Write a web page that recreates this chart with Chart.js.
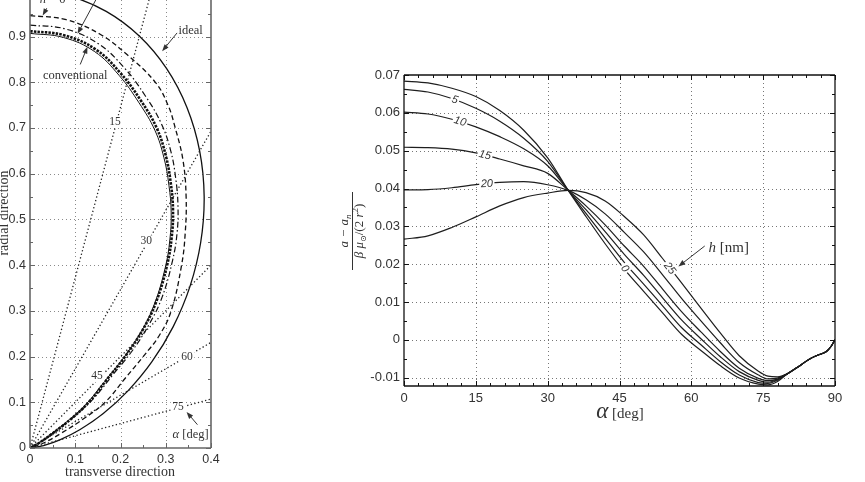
<!DOCTYPE html>
<html>
<head>
<meta charset="utf-8">
<script src="https://cdn.jsdelivr.net/npm/chart.js@4.4.0/dist/chart.umd.min.js"></script>
<style>
  html, body { margin: 0; padding: 0; background: #fff; width: 865px; height: 482px; overflow: hidden; }
  #left { position: absolute; left: 0; top: 0; }
  #right { position: absolute; left: 340px; top: 0; }
</style>
</head>
<body>
<canvas id="left" width="240" height="482"></canvas>
<canvas id="right" width="525" height="482"></canvas>
<script>
// ---- left panel: force curves (transverse vs radial) ----
const leftXTicks = [0, 0.1, 0.2, 0.3, 0.4];
const leftYTicks = [0, 0.1, 0.2, 0.3, 0.4, 0.5, 0.6, 0.7, 0.8, 0.9];
const leftXMinor = [0.05, 0.15, 0.25, 0.35];
const leftYMinor = [0.05, 0.15, 0.25, 0.35, 0.45, 0.55, 0.65, 0.75, 0.85, 0.95];

const idealX = [0, 0.0865, 0.1684, 0.2415, 0.3020, 0.3471, 0.3750, 0.3849, 0.3772, 0.3536, 0.3165, 0.2695, 0.2165, 0.1619, 0.1099, 0.0647, 0.0297, 0.0076, 0];
const idealY = [1, 0.9886, 0.9551, 0.9012, 0.8298, 0.7444, 0.6495, 0.5497, 0.4495, 0.3536, 0.2656, 0.1887, 0.1250, 0.0755, 0.0400, 0.0173, 0.0052, 0.0007, 0];
const nZeroX = [0, 0.080, 0.155, 0.215, 0.277, 0.305, 0.321, 0.338, 0.345, 0.343, 0.335, 0.312, 0.285, 0.250, 0.210, 0.166, 0.120, 0.070, 0.030, 0];
const nZeroY = [0.946, 0.937, 0.905, 0.860, 0.800, 0.750, 0.700, 0.630, 0.550, 0.470, 0.400, 0.300, 0.245, 0.200, 0.152, 0.100, 0.065, 0.033, 0.011, 0];
const dashDotX = [0, 0.077, 0.150, 0.208, 0.255, 0.290, 0.311, 0.322, 0.327, 0.325, 0.315, 0.292, 0.263, 0.224, 0.183, 0.142, 0.100, 0.057, 0.024, 0];
const dashDotY = [0.925, 0.917, 0.885, 0.832, 0.770, 0.710, 0.650, 0.590, 0.530, 0.470, 0.410, 0.330, 0.270, 0.210, 0.160, 0.110, 0.071, 0.037, 0.013, 0];
const convX = [0, 0.075, 0.145, 0.200, 0.245, 0.280, 0.300, 0.311, 0.316, 0.313, 0.303, 0.279, 0.250, 0.210, 0.170, 0.130, 0.090, 0.050, 0.020, 0];
const convY = [0.912, 0.903, 0.872, 0.820, 0.760, 0.700, 0.640, 0.580, 0.520, 0.460, 0.400, 0.320, 0.260, 0.200, 0.150, 0.100, 0.063, 0.032, 0.011, 0];
const convInnerX = [0, 0.074, 0.143, 0.197, 0.241, 0.276, 0.296, 0.307, 0.312, 0.309, 0.299, 0.275, 0.246, 0.206, 0.166, 0.126, 0.087, 0.048, 0.019, 0];
const convInnerY = [0.907, 0.898, 0.867, 0.815, 0.755, 0.695, 0.635, 0.575, 0.515, 0.455, 0.395, 0.315, 0.255, 0.196, 0.147, 0.098, 0.062, 0.032, 0.011, 0];

// cone-angle rays from the origin
const rayLabels = ['15', '30', '45', '60', '75'];
const rayEndX = [0.263, 0.4, 0.4, 0.4, 0.4];
const rayEndY = [0.98, 0.693, 0.4, 0.231, 0.107];

// ---- right panel: acceleration difference vs cone angle ----
const alphaDeg = [0, 5, 10, 15, 20, 25, 30, 34.3, 38, 42, 46, 50, 54, 58, 62, 66, 70, 74, 76, 78, 80, 82, 84.8, 86.5, 88.2, 89.2, 90];
const h0  = [0.0684, 0.0679, 0.0665, 0.0643, 0.0606, 0.0554, 0.0481, 0.0395, 0.0326, 0.0254, 0.0187, 0.0129, 0.0071, 0.0014, -0.0028, -0.0068, -0.0101, -0.0117, -0.0119, -0.0110, -0.0090, -0.0074, -0.0050, -0.0040, -0.0031, -0.0017, 0];
const h5  = [0.0662, 0.0655, 0.0638, 0.0612, 0.0578, 0.0533, 0.0472, 0.0395, 0.0334, 0.0269, 0.0205, 0.0148, 0.0090, 0.0032, -0.0013, -0.0057, -0.0093, -0.0113, -0.0115, -0.0107, -0.0090, -0.0074, -0.0050, -0.0040, -0.0031, -0.0017, 0];
const h10 = [0.0602, 0.0597, 0.0583, 0.0563, 0.0537, 0.0505, 0.0460, 0.0395, 0.0344, 0.0286, 0.0226, 0.0171, 0.0111, 0.0052, 0.0003, -0.0044, -0.0084, -0.0107, -0.0112, -0.0105, -0.0090, -0.0074, -0.0050, -0.0040, -0.0031, -0.0017, 0];
const h15 = [0.0509, 0.0508, 0.0504, 0.0494, 0.0478, 0.0460, 0.0440, 0.0395, 0.0354, 0.0304, 0.0248, 0.0195, 0.0134, 0.0074, 0.0021, -0.0030, -0.0075, -0.0102, -0.0108, -0.0104, -0.0090, -0.0074, -0.0050, -0.0040, -0.0031, -0.0017, 0];
const h20 = [0.0396, 0.0397, 0.0402, 0.0410, 0.0416, 0.0418, 0.0410, 0.0395, 0.0370, 0.0333, 0.0284, 0.0233, 0.0172, 0.0109, 0.0050, -0.0007, -0.0060, -0.0093, -0.0103, -0.0101, -0.0090, -0.0074, -0.0050, -0.0040, -0.0031, -0.0017, 0];
const h25 = [0.0266, 0.0275, 0.0297, 0.0325, 0.0354, 0.0376, 0.0388, 0.0395, 0.0389, 0.0367, 0.0326, 0.0278, 0.0215, 0.0150, 0.0084, 0.0019, -0.0042, -0.0083, -0.0096, -0.0098, -0.0090, -0.0074, -0.0050, -0.0040, -0.0031, -0.0017, 0];
const thicknessSeries = [h0, h5, h10, h15, h20, h25];

const rightXTicks = [0, 15, 30, 45, 60, 75, 90];
const rightXMinor = [3, 6, 9, 12, 18, 21, 24, 27, 33, 36, 39, 42, 48, 51, 54, 57, 63, 66, 69, 72, 78, 81, 84, 87];
const rightYTicks = [-0.01, 0, 0.01, 0.02, 0.03, 0.04, 0.05, 0.06, 0.07];
const rightYMinor = [-0.005, 0.005, 0.015, 0.025, 0.035, 0.045, 0.055, 0.065];

const SERIF = '"Liberation Serif", "DejaVu Serif", serif';
const SANS = '"Liberation Sans", Arial, sans-serif';
const TXT = '#333';

const pts = (xs, ys) => xs.map((x, i) => ({x, y: ys[i]}));

function arrow(ctx, x1, y1, x2, y2) {
  const a = Math.atan2(y2 - y1, x2 - x1), L = 7, W = 2.6;
  ctx.beginPath();
  ctx.moveTo(x1, y1);
  ctx.lineTo(x2 - 5 * Math.cos(a), y2 - 5 * Math.sin(a));
  ctx.stroke();
  ctx.beginPath();
  ctx.moveTo(x2, y2);
  ctx.lineTo(x2 - L * Math.cos(a) + W * Math.sin(a), y2 - L * Math.sin(a) - W * Math.cos(a));
  ctx.lineTo(x2 - L * Math.cos(a) - W * Math.sin(a), y2 - L * Math.sin(a) + W * Math.cos(a));
  ctx.closePath();
  ctx.fill();
}

function runs(ctx, parts, x, y) {
  let w = 0;
  parts.forEach(p => { ctx.font = p.font; p.w = ctx.measureText(p.t).width; w += p.w; });
  let cx = x - w / 2;
  ctx.textAlign = 'left';
  parts.forEach(p => { ctx.font = p.font; ctx.fillText(p.t, cx, y + (p.dy || 0)); cx += p.w; });
  return w;
}

function boxedText(ctx, t, x, y, rot) {
  ctx.save();
  ctx.translate(x, y);
  ctx.rotate((rot || 0) * Math.PI / 180);
  const w = ctx.measureText(t).width;
  ctx.fillStyle = '#fff';
  ctx.fillRect(-w / 2 - 1.5, -6, w + 3, 12);
  ctx.fillStyle = TXT;
  ctx.textAlign = 'center';
  ctx.textBaseline = 'middle';
  ctx.fillText(t, 0, 0);
  ctx.restore();
}

// grid, box and inward tick marks (matlab look)
const framePlugin = {
  id: 'frame',
  beforeDatasetsDraw(chart, args, o) {
    const {ctx, chartArea: a} = chart;
    const sx = chart.scales.x, sy = chart.scales.y;
    ctx.save();
    ctx.strokeStyle = o.gridColor;
    ctx.lineWidth = 1;
    ctx.setLineDash([1, 3]);
    o.xMajor.filter(v => v > sx.min && v < sx.max).forEach(v => {
      const p = Math.round(sx.getPixelForValue(v)) + 0.5;
      ctx.beginPath(); ctx.moveTo(p, a.top); ctx.lineTo(p, a.bottom); ctx.stroke();
    });
    o.yMajor.filter(v => v > sy.min && v < sy.max).forEach(v => {
      const p = Math.round(sy.getPixelForValue(v)) + 0.5;
      ctx.beginPath(); ctx.moveTo(a.left, p); ctx.lineTo(a.right, p); ctx.stroke();
    });
    ctx.restore();
  },
  afterDatasetsDraw(chart, args, o) {
    const {ctx, chartArea: a} = chart;
    const sx = chart.scales.x, sy = chart.scales.y;
    const seg = (x1, y1, x2, y2) => { ctx.beginPath(); ctx.moveTo(x1, y1); ctx.lineTo(x2, y2); ctx.stroke(); };
    ctx.save();
    ctx.strokeStyle = o.frameColor;
    ctx.lineWidth = 1;
    const xt = (vals, len) => vals.forEach(v => {
      const p = Math.round(sx.getPixelForValue(v)) + 0.5;
      seg(p, a.bottom, p, a.bottom - len);
      if (o.top) seg(p, a.top, p, a.top + len);
    });
    const yt = (vals, len) => vals.forEach(v => {
      const p = Math.round(sy.getPixelForValue(v)) + 0.5;
      seg(a.left, p, a.left + len, p);
      seg(a.right, p, a.right - len, p);
    });
    xt(o.xMajor, 5); xt(o.xMinor, 3);
    yt(o.yMajor, 5); yt(o.yMinor, 3);
    ctx.lineWidth = o.frameWidth;
    seg(a.left, a.bottom, a.right, a.bottom);
    seg(a.left, a.top, a.left, a.bottom);
    seg(a.right, a.top, a.right, a.bottom);
    if (o.top) seg(a.left, a.top, a.right, a.top);
    ctx.restore();
  }
};

function fixedAxis(size, horizontal) {
  return s => {
    if (horizontal) s.height = size; else s.width = size;
    s.paddingTop = 0; s.paddingBottom = 0; s.paddingLeft = 0; s.paddingRight = 0;
  };
}
const setTicks = vals => s => { s.ticks = vals.map(v => ({value: v})); };
const noGrid = {display: false, drawTicks: false, tickLength: 0};

// ---------- left chart ----------
const leftNotes = {
  id: 'leftNotes',
  afterDatasetsDraw(chart) {
    const {ctx} = chart;
    const sx = chart.scales.x, sy = chart.scales.y;
    const px = x => sx.getPixelForValue(x), py = y => sy.getPixelForValue(y);
    ctx.save();
    ctx.font = '11.5px ' + SERIF;
    const rayLabelX = [0.188, 0.257, 0.148, 0.347, 0.327];
    const rayLabelY = [0.714, 0.452, 0.157, 0.199, 0.089];
    rayLabels.forEach((t, i) => boxedText(ctx, t, px(rayLabelX[i]), py(rayLabelY[i]), 0));

    ctx.fillStyle = TXT;
    ctx.strokeStyle = '#333';
    ctx.lineWidth = 1;
    ctx.textAlign = 'center';
    ctx.textBaseline = 'alphabetic';
    ctx.font = '12.5px ' + SERIF;
    ctx.fillText('ideal', px(0.355), py(0.905));
    arrow(ctx, px(0.325), py(0.908), px(0.292), py(0.868));
    ctx.fillText('conventional', px(0.1), py(0.807));
    arrow(ctx, px(0.111), py(0.839), px(0.127), py(0.878));
    runs(ctx, [{t: 'n', font: 'italic 12.5px ' + SERIF}, {t: ' = 0', font: '12.5px ' + SERIF}], px(0.05), 3);
    arrow(ctx, px(0.037), py(0.962), px(0.028), py(0.946));
    arrow(ctx, px(0.148), py(0.985), px(0.105), py(0.906));
    runs(ctx, [{t: 'α', font: 'italic 12.5px ' + SERIF}, {t: ' [deg]', font: '12.5px ' + SERIF}], px(0.355), py(0.022));
    arrow(ctx, px(0.370), py(0.051), px(0.346), py(0.079));

    // axis titles
    ctx.font = '14px ' + SERIF;
    ctx.textAlign = 'center';
    ctx.fillText('transverse direction', 120, 476);
    ctx.translate(8, 213);
    ctx.rotate(-Math.PI / 2);
    ctx.fillText('radial direction', 0, 0);
    ctx.restore();
  }
};

const rays = rayEndX.map((x, i) => ({
  label: rayLabels[i] + ' deg',
  data: [{x: 0, y: 0}, {x, y: rayEndY[i]}],
  borderColor: '#222', borderWidth: 1.3, borderDash: [1.3, 2.4], tension: 0
}));

new Chart(document.getElementById('left'), {
  type: 'line',
  data: {
    datasets: [
      ...rays,
      {label: 'ideal', data: pts(idealX, idealY), borderColor: '#111', borderWidth: 1.3},
      {label: 'n = 0', data: pts(nZeroX, nZeroY), borderColor: '#111', borderWidth: 1.3, borderDash: [5, 3]},
      {label: 'dash-dot', data: pts(dashDotX, dashDotY), borderColor: '#111', borderWidth: 1.2, borderDash: [6, 2.5, 1.5, 2.5]},
      {label: 'inner', data: pts(convInnerX, convInnerY), borderColor: '#111', borderWidth: 1},
      {label: 'conventional', data: pts(convX, convY), borderColor: '#111', borderWidth: 2.6, borderDash: [2.5, 1.2]}
    ]
  },
  options: {
    responsive: false,
    animation: false,
    events: [],
    layout: {padding: {left: 0, right: 29, top: 0, bottom: 0}},
    elements: {point: {radius: 0}, line: {tension: 0.4, capBezierPoints: false, fill: false}},
    plugins: {
      legend: {display: false},
      tooltip: {enabled: false},
      frame: {xMajor: leftXTicks, yMajor: leftYTicks, xMinor: leftXMinor, yMinor: leftYMinor,
              gridColor: '#8a8a8a', frameColor: '#666', frameWidth: 1.6, top: false}
    },
    scales: {
      x: {
        type: 'linear', min: 0, max: 0.4,
        afterFit: fixedAxis(34, true),
        afterBuildTicks: setTicks(leftXTicks),
        grid: noGrid, border: {display: false},
        ticks: {color: TXT, font: {family: SANS, size: 12.5}, padding: 4, maxRotation: 0, autoSkip: false}
      },
      y: {
        type: 'linear', min: 0, max: 0.98,
        afterFit: fixedAxis(30, false),
        afterBuildTicks: setTicks(leftYTicks),
        grid: noGrid, border: {display: false},
        ticks: {color: TXT, font: {family: SANS, size: 12.5}, padding: 4, autoSkip: false}
      }
    }
  },
  plugins: [framePlugin, leftNotes]
});

// ---------- right chart ----------
const rightNotes = {
  id: 'rightNotes',
  afterDatasetsDraw(chart) {
    const {ctx} = chart;
    const sx = chart.scales.x, sy = chart.scales.y;
    const px = x => sx.getPixelForValue(x), py = y => sy.getPixelForValue(y);
    const curveLabels = [
      {t: '5', x: 10.6, y: 0.0634, r: 17},
      {t: '10', x: 11.7, y: 0.0577, r: 16},
      {t: '15', x: 16.9, y: 0.0488, r: 13},
      {t: '20', x: 17.3, y: 0.0412, r: -3},
      {t: '0', x: 46.1, y: 0.0188, r: 53},
      {t: '25', x: 55.5, y: 0.0189, r: 52}
    ];
    ctx.save();
    ctx.font = 'italic 11px ' + SANS;
    curveLabels.forEach(l => boxedText(ctx, l.t, px(l.x), py(l.y), l.r));

    ctx.fillStyle = TXT;
    ctx.strokeStyle = '#333';
    ctx.lineWidth = 1;
    ctx.textBaseline = 'alphabetic';
    runs(ctx, [{t: 'h', font: 'italic 15px ' + SERIF}, {t: ' [nm]', font: '15px ' + SERIF}], px(67.8), py(0.0232));
    arrow(ctx, px(62.8), py(0.0248), px(57.3), py(0.0194));

    // x title
    runs(ctx, [{t: 'α', font: 'italic 23px ' + SERIF}, {t: ' [deg]', font: '15px ' + SERIF}], 280, 418);

    // y title: (a - a_n) / (beta mu_sun / (2 r^2))
    ctx.translate(12, 231);
    ctx.rotate(-Math.PI / 2);
    runs(ctx, [
      {t: 'a − a', font: 'italic 13px ' + SERIF},
      {t: 'n', font: 'italic 9px ' + SERIF, dy: 3}
    ], 0, -4);
    runs(ctx, [
      {t: 'β μ', font: 'italic 13px ' + SERIF},
      {t: '⊙', font: '8px ' + SERIF, dy: 3},
      {t: '/(2 ', font: '13px ' + SERIF},
      {t: 'r', font: 'italic 13px ' + SERIF},
      {t: '2', font: '9px ' + SERIF, dy: -5},
      {t: ')', font: '13px ' + SERIF}
    ], 0, 11);
    ctx.beginPath();
    ctx.moveTo(-39, 0.5); ctx.lineTo(39, 0.5);
    ctx.stroke();
    ctx.restore();
  }
};

new Chart(document.getElementById('right'), {
  type: 'line',
  data: {
    datasets: thicknessSeries.map((s, i) => ({
      label: 'h ' + (i * 5),
      data: pts(alphaDeg, s),
      borderColor: '#1e1e1e', borderWidth: 1.2,
      cubicInterpolationMode: 'monotone'
    }))
  },
  options: {
    responsive: false,
    animation: false,
    events: [],
    layout: {padding: {left: 0, right: 30, top: 75, bottom: 0}},
    elements: {point: {radius: 0}, line: {fill: false}},
    plugins: {
      legend: {display: false},
      tooltip: {enabled: false},
      frame: {xMajor: rightXTicks, yMajor: rightYTicks, xMinor: rightXMinor, yMinor: rightYMinor,
              gridColor: '#777', frameColor: '#111', frameWidth: 1.3, top: true}
    },
    scales: {
      x: {
        type: 'linear', min: 0, max: 90,
        afterFit: fixedAxis(96, true),
        afterBuildTicks: setTicks(rightXTicks),
        grid: noGrid, border: {display: false},
        ticks: {color: TXT, font: {family: SANS, size: 13}, padding: 5, maxRotation: 0, autoSkip: false}
      },
      y: {
        type: 'linear', min: -0.0122, max: 0.07,
        afterFit: fixedAxis(64, false),
        afterBuildTicks: setTicks(rightYTicks),
        grid: noGrid, border: {display: false},
        ticks: {
          color: TXT, font: {family: SANS, size: 13}, padding: 4, autoSkip: false,
          callback: v => (Math.abs(v) < 1e-9 ? '0' : v.toFixed(2))
        }
      }
    }
  },
  plugins: [framePlugin, rightNotes]
});
</script>
</body>
</html>
